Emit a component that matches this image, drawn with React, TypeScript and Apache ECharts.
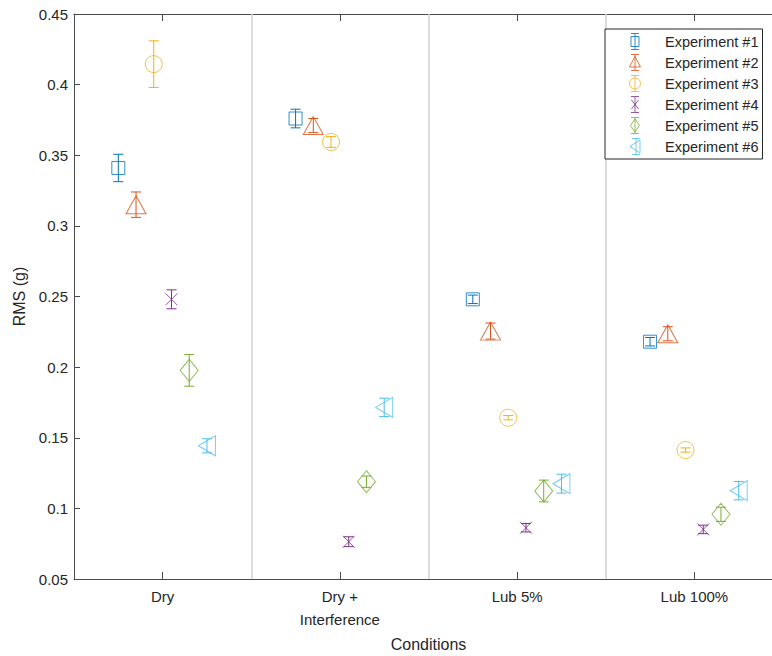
import React, { useEffect, useRef } from "react";
import * as echarts from "echarts";

const categories = ["Dry", "Dry +\nInterference", "Lub 5%", "Lub 100%"];
const experiments = ["Experiment #1", "Experiment #2", "Experiment #3", "Experiment #4", "Experiment #5", "Experiment #6"];
const offsets = [-0.25, -0.15, -0.05, 0.05, 0.15, 0.25];
const colors = ["#0072BD", "#D95319", "#EDB120", "#7E2F8E", "#77AC30", "#4DBEEE"];

const exp1Mean = [0.341, 0.376, 0.248, 0.218];
const exp1Err = [0.0097, 0.0066, 0.003, 0.003];
const exp2Mean = [0.315, 0.371, 0.2255, 0.2236];
const exp2Err = [0.009, 0.005, 0.0057, 0.005];
const exp3Mean = [0.4145, 0.3594, 0.1642, 0.1413];
const exp3Err = [0.0165, 0.0038, 0.0015, 0.0015];
const exp4Mean = [0.248, 0.0764, 0.0863, 0.0851];
const exp4Err = [0.0067, 0.0035, 0.003, 0.003];
const exp5Mean = [0.1977, 0.1189, 0.1123, 0.0958];
const exp5Err = [0.0112, 0.004, 0.0077, 0.005];
const exp6Mean = [0.1443, 0.1715, 0.1175, 0.1125];
const exp6Err = [0.005, 0.0065, 0.0067, 0.0065];

const means = [exp1Mean, exp2Mean, exp3Mean, exp4Mean, exp5Mean, exp6Mean];
const errs = [exp1Err, exp2Err, exp3Err, exp4Err, exp5Err, exp6Err];

const yTicksMin = 0.05;
const yTicksMax = 0.45;
const yTickStep = 0.05;

const symbols: any[] = [
  "rect",
  "triangle",
  "circle",
  "path://M0,0L12,12M12,0L0,12",
  "diamond",
  "path://M0,10L17,0L17,20Z",
];
const symbolSizes: any[] = [13, [20, 18], 17, [12, 12], [18, 22], [17, 20]];

const caps = "M1,0H9M5,0V16M1,16H9";
const legendIcons = [
  "path://" + caps + "M1,3H9V13H1Z",
  "path://" + caps + "M5,2L10.5,12.5L-0.5,12.5Z",
  "path://" + caps + "M5,2.5A5.5,5.5 0 1 1 4.99,2.5Z",
  "path://" + caps + "M1.5,3.5L8.5,12.5M8.5,3.5L1.5,12.5",
  "path://" + caps + "M5,1.5L9.5,8L5,14.5L0.5,8Z",
  "path://M2,0H10M6,0V16M2,16H10M0,8L10,1.5L10,14.5Z",
];

const FONT = "'Liberation Sans', Arial, Helvetica, sans-serif";
const TXT = "#262626";
const AXIS = "#4a4a4a";

export default function App() {
  const ref = useRef<HTMLDivElement>(null);
  useEffect(() => {
    if (!ref.current) return;
    const chart = echarts.init(ref.current, undefined, { renderer: "svg" });
    const tickValues = categories.map((_, i) => i + 1);
    const separators = categories.slice(1).map((_, i) => ({ xAxis: i + 1.5 }));

    const series: any[] = [];
    experiments.forEach((name, k) => {
      const c = colors[k];
      const data = means[k].map((m, i) => [i + 1 + offsets[k], m, errs[k][i]]);
      const bar: any = {
        type: "custom",
        name: "eb" + k,
        silent: true,
        encode: { x: 0, y: 1 },
        data,
        z: 2,
        renderItem: (params: any, api: any) => {
          const x = api.value(0);
          const y = api.value(1);
          const e = api.value(2);
          const top = api.coord([x, y + e]);
          const bot = api.coord([x, y - e]);
          const hw = 5;
          const style = { stroke: c, lineWidth: 1 };
          return {
            type: "group",
            children: [
              { type: "line", shape: { x1: top[0], y1: top[1], x2: bot[0], y2: bot[1] }, style },
              { type: "line", shape: { x1: top[0] - hw, y1: top[1], x2: top[0] + hw, y2: top[1] }, style },
              { type: "line", shape: { x1: bot[0] - hw, y1: bot[1], x2: bot[0] + hw, y2: bot[1] }, style },
            ],
          };
        },
      };
      if (k === 0) {
        bar.markLine = {
          silent: true,
          symbol: ["none", "none"],
          label: { show: false },
          lineStyle: { color: "#d2d2d2", width: 1.5, type: "solid" },
          emphasis: { disabled: true },
          data: separators,
          z: 1,
        };
      }
      series.push(bar);
      series.push({
        type: "scatter",
        name,
        silent: true,
        symbol: symbols[k],
        symbolSize: symbolSizes[k],
        symbolKeepAspect: false,
        data: data.map((d) => [d[0], d[1]]),
        itemStyle: { color: "transparent", borderColor: c, borderWidth: 1 },
        z: 3,
      });
    });

    chart.setOption({
      animation: false,
      backgroundColor: "#ffffff",
      grid: { left: 74, top: 14, width: 709, height: 565, containLabel: false, outerBoundsMode: "none" },
      legend: {
        orient: "vertical",
        left: 605,
        top: 29,
        padding: [4, 4, 4, 24],
        itemWidth: 50,
        itemHeight: 16,
        itemGap: 4,
        backgroundColor: "#ffffff",
        borderColor: "#262626",
        borderWidth: 1,
        borderRadius: 0,
        selectedMode: false,
        textStyle: { fontFamily: FONT, fontSize: 14.5, color: TXT, lineHeight: 16 },
        data: experiments.map((n, k) => ({
          name: n,
          icon: legendIcons[k],
          itemStyle: { color: "transparent", borderColor: colors[k], borderWidth: 1 },
        })),
      },
      xAxis: [
        {
          type: "value",
          min: 0.5,
          max: categories.length + 0.5,
          position: "bottom",
          name: "Conditions",
          nameLocation: "middle",
          nameGap: 57,
          nameTextStyle: { fontFamily: FONT, fontSize: 16, color: TXT },
          axisLine: { show: true, lineStyle: { color: AXIS, width: 1 } },
          axisTick: { show: true, inside: true, length: 7, customValues: tickValues, lineStyle: { color: AXIS } },
          axisLabel: {
            show: true,
            customValues: tickValues,
            formatter: (v: number) => categories[Math.round(v) - 1] ?? "",
            fontFamily: FONT,
            fontSize: 15,
            color: TXT,
            lineHeight: 23,
            margin: 6,
          },
          splitLine: { show: false },
        },
        {
          type: "value",
          min: 0.5,
          max: categories.length + 0.5,
          position: "top",
          axisLine: { show: true, lineStyle: { color: AXIS, width: 1 } },
          axisTick: { show: true, inside: true, length: 7, customValues: tickValues, lineStyle: { color: AXIS } },
          axisLabel: { show: false },
          splitLine: { show: false },
        },
      ],
      yAxis: {
        type: "value",
        min: yTicksMin,
        max: yTicksMax,
        interval: yTickStep,
        name: "RMS (g)",
        nameLocation: "middle",
        nameGap: 47,
        nameTextStyle: { fontFamily: FONT, fontSize: 16, color: TXT },
        axisLine: { show: true, lineStyle: { color: AXIS, width: 1 } },
        axisTick: { show: true, inside: true, length: 6, lineStyle: { color: AXIS } },
        axisLabel: {
          formatter: (v: number) => String(+v.toFixed(2)),
          fontFamily: FONT,
          fontSize: 15,
          color: TXT,
          margin: 6,
        },
        splitLine: { show: false },
      },
      series,
    });
    return () => chart.dispose();
  }, []);
  return <div ref={ref} style={{ position: "fixed", left: 0, top: 0, width: 772, height: 656 }} />;
}
